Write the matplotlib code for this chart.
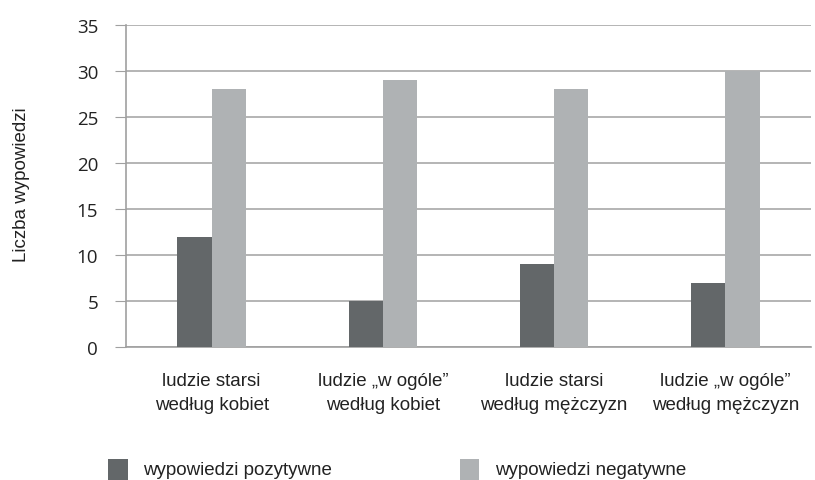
import matplotlib.pyplot as plt
import numpy as np
from matplotlib.patches import Rectangle

categories = ['ludzie starsi\nwedług kobiet', 'ludzie \u201ew ogóle\u201d\nwedług kobiet',
              'ludzie starsi\nwedług mężczyzn', 'ludzie \u201ew ogóle\u201d\nwedług mężczyzn']
pozytywne = [12, 5, 9, 7]
negatywne = [28, 29, 28, 30]
series_names = ['wypowiedzi pozytywne', 'wypowiedzi negatywne']
yticks = [0, 5, 10, 15, 20, 25, 30, 35]

dark = '#636769'
light = '#afb2b4'
narrow = ['Liberation Sans', 'DejaVu Sans']

fig = plt.figure(figsize=(8.15, 4.81), dpi=100)
ax = fig.add_axes([0.1546, 0.2765, 0.8404, 0.6695])

x = np.arange(len(categories))
w = 0.2
ax.bar(x - w/2, pozytywne, w, color=dark, zorder=3)
ax.bar(x + w/2, negatywne, w, color=light, zorder=3)

ax.set_xlim(-0.5, len(categories) - 0.5)
ax.set_ylim(0, 35)
ax.set_yticks(yticks)
ax.set_yticklabels([str(t) for t in yticks], fontsize=13.5, family=['Open Sans', 'DejaVu Sans'], color='#222222')
ax.tick_params(axis='y', length=8, color='#a0a0a0', pad=12)
ax.grid(axis='y', color='#a8a8a8', linewidth=1.2, zorder=0)

ax.set_xticks(x)
ax.set_xticklabels(categories, fontsize=13.5, family=narrow, color='#222222', linespacing=1.5)
ax.tick_params(axis='x', length=0, pad=18)

for s in ['top', 'right']:
    ax.spines[s].set_visible(False)
ax.spines['left'].set_color('#a0a0a0')
ax.spines['bottom'].set_color('#a0a0a0')
ax.spines['left'].set_linewidth(1.2)
ax.spines['bottom'].set_linewidth(1.2)

fig.text(0.026, 0.615, 'Liczba wypowiedzi', rotation=90, ha='center', va='center',
         fontsize=13.5, family=narrow, color='#222222')

# legend at bottom
for fx, col, name in [(0.133, dark, series_names[0]), (0.564, light, series_names[1])]:
    fig.patches.append(Rectangle((fx, 0.0), 0.024, 0.044, transform=fig.transFigure,
                                 facecolor=col, edgecolor='none'))
    fig.text(fx + 0.043, 0.022, name, ha='left', va='center', fontsize=13.5,
             family=narrow, color='#222222')

fig.savefig('out.png', dpi=100)
